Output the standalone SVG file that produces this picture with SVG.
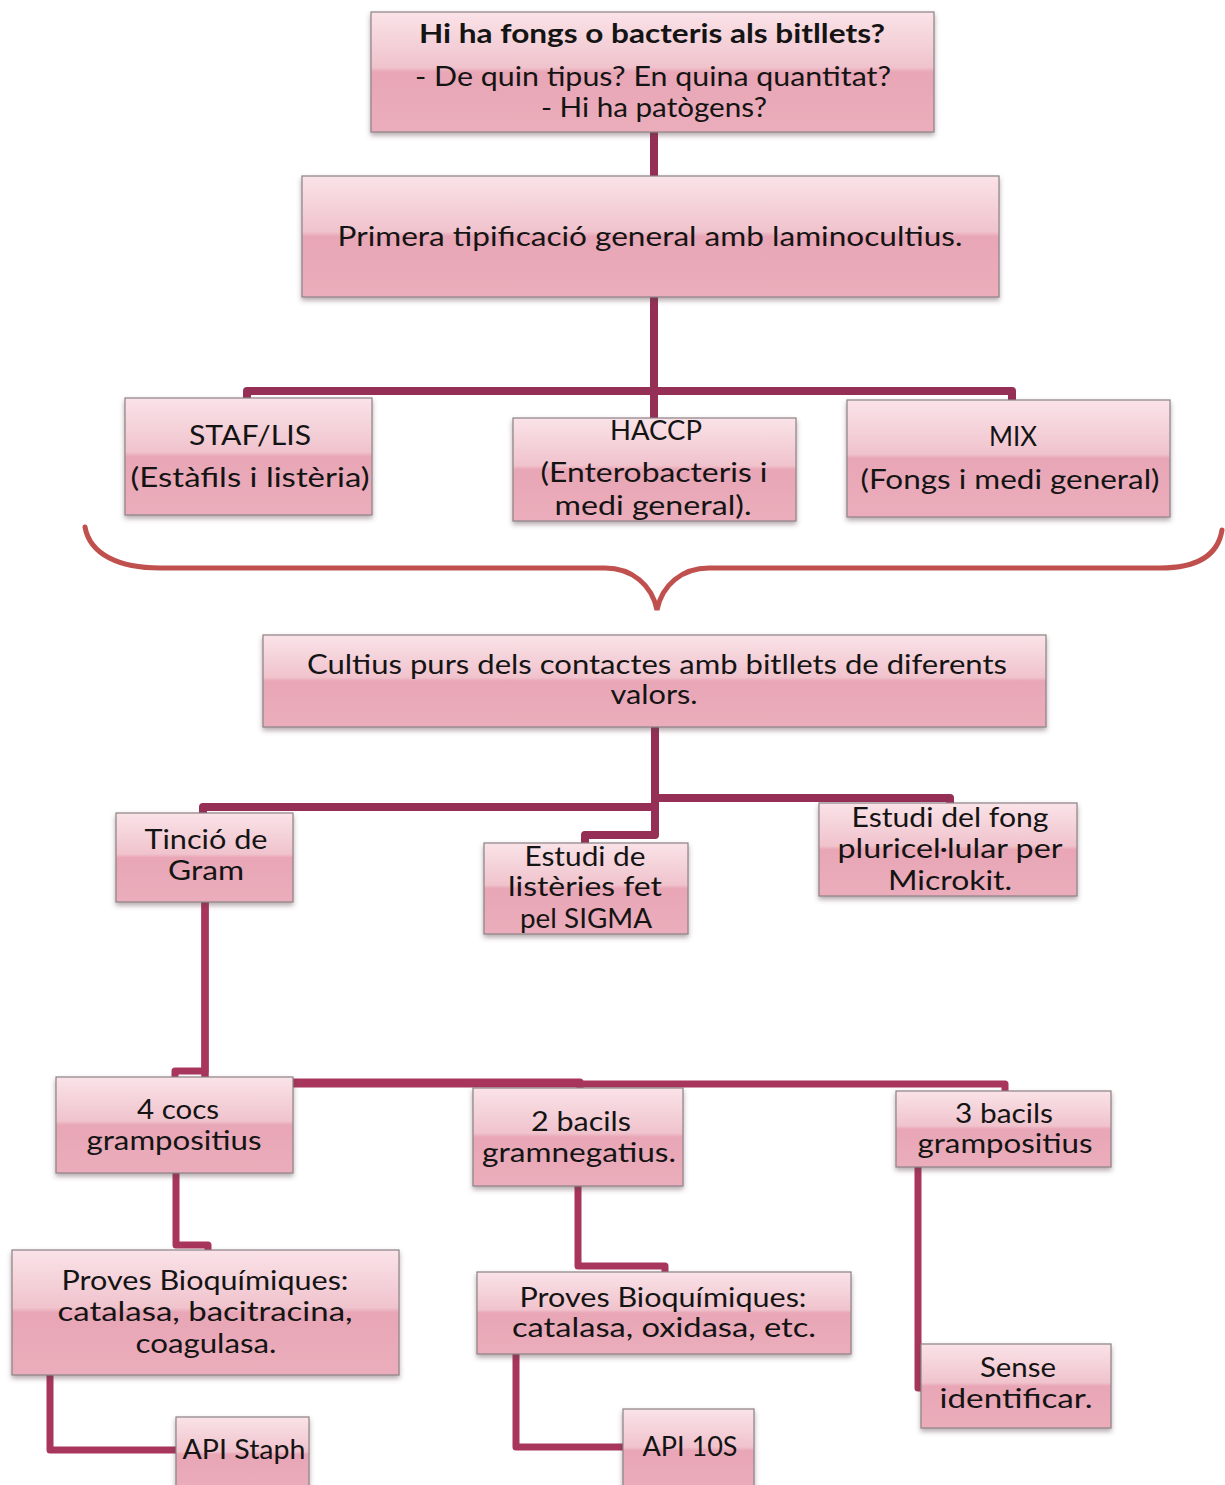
<svg xmlns="http://www.w3.org/2000/svg" width="1225" height="1485" viewBox="0 0 1225 1485">
<defs>
<linearGradient id="pink" x1="0" y1="0" x2="0" y2="1">
<stop offset="0" stop-color="#fae3e8"/>
<stop offset="0.46" stop-color="#f0c3cd"/>
<stop offset="0.5" stop-color="#e8a6b6"/>
<stop offset="1" stop-color="#ebadbb"/>
</linearGradient>
<filter id="sh" x="-10%" y="-10%" width="120%" height="130%">
<feDropShadow dx="0" dy="3" stdDeviation="2.5" flood-color="#5a4048" flood-opacity="0.45"/>
</filter>
</defs>
<style>
.box{fill:url(#pink);stroke:#8c8285;stroke-width:1.2;filter:url(#sh)}
.t{font-family:Lato,"Open Sans","Liberation Sans",sans-serif;font-size:27px;fill:#141414;text-anchor:middle}
.b{font-weight:bold}
.c1{fill:none;stroke:#952f55;stroke-width:8;stroke-linejoin:round}
.c2{fill:none;stroke:#a8355c;stroke-width:7;stroke-linejoin:round}
.brace{fill:none;stroke:#c0504d;stroke-width:5;stroke-linecap:round}
</style>
<rect width="1225" height="1485" fill="#ffffff"/>
<g id="connectors">
<path class="c1" d="M654,130 V178"/>
<path class="c1" d="M654,295 V420"/>
<path class="c1" d="M654,391 H247 V400"/>
<path class="c1" d="M654,391 H1012 V402"/>
<path class="c1" d="M655,725 V835 H585 V845"/>
<path class="c1" d="M655,798 H950 V805"/>
<path class="c1" d="M655,807 H203 V815"/>
<path class="c2" d="M205,900 V1071 H175 V1079"/>
<path class="c2" d="M205,900 V1082 H580 V1090"/>
<path class="c2" d="M205,900 V1084 H1005 V1093"/>
<path class="c2" d="M176,1171 V1245 H208 V1252"/>
<path class="c2" d="M578,1184 V1266 H665 V1274"/>
<path class="c2" d="M918,1165 V1388 H923"/>
<path class="c2" d="M50,1373 V1450 H178"/>
<path class="c2" d="M516,1352 V1447 H625"/>
<path class="brace" d="M85,527 C90,555 120,568 160,568 L605,568 C632,568 652,585 657,610 C662,585 682,568 709,568 L1160,568 C1198,568 1218,555 1222,530"/>
</g>
<g id="n1"><rect class="box" x="371" y="12" width="563" height="120"/>
<text class="t b" x="652" y="43" textLength="466" lengthAdjust="spacingAndGlyphs">Hi ha fongs o bacteris als bitllets?</text>
<text class="t" x="653" y="86" textLength="476" lengthAdjust="spacingAndGlyphs">- De quin tipus? En quina quantitat?</text>
<text class="t" x="654" y="117" textLength="226" lengthAdjust="spacingAndGlyphs">- Hi ha patògens?</text></g>
<g id="n2"><rect class="box" x="302" y="176" width="697" height="121"/>
<text class="t" x="650" y="246" textLength="625" lengthAdjust="spacingAndGlyphs">Primera tipificació general amb laminocultius.</text></g>
<g id="n3"><rect class="box" x="125" y="398" width="247" height="117"/>
<text class="t" x="250" y="445" textLength="122" lengthAdjust="spacingAndGlyphs">STAF/LIS</text>
<text class="t" x="250" y="487" textLength="239" lengthAdjust="spacingAndGlyphs">(Estàfils i listèria)</text></g>
<g id="n4"><rect class="box" x="513" y="418" width="283" height="103"/>
<text class="t" x="656" y="440" textLength="92" lengthAdjust="spacingAndGlyphs">HACCP</text>
<text class="t" x="654" y="482" textLength="227" lengthAdjust="spacingAndGlyphs">(Enterobacteris i</text>
<text class="t" x="653" y="515" textLength="197" lengthAdjust="spacingAndGlyphs">medi general).</text></g>
<g id="n5"><rect class="box" x="847" y="400" width="323" height="117"/>
<text class="t" x="1013" y="446" textLength="48" lengthAdjust="spacingAndGlyphs">MIX</text>
<text class="t" x="1010" y="489" textLength="299" lengthAdjust="spacingAndGlyphs">(Fongs i medi general)</text></g>
<g id="n6"><rect class="box" x="263" y="635" width="783" height="92"/>
<text class="t" x="657" y="674" textLength="700" lengthAdjust="spacingAndGlyphs">Cultius purs dels contactes amb bitllets de diferents</text>
<text class="t" x="654" y="704" textLength="87" lengthAdjust="spacingAndGlyphs">valors.</text></g>
<g id="n7"><rect class="box" x="116" y="813" width="177" height="89"/>
<text class="t" x="206" y="849" textLength="123" lengthAdjust="spacingAndGlyphs">Tinció de</text>
<text class="t" x="206" y="880" textLength="76" lengthAdjust="spacingAndGlyphs">Gram</text></g>
<g id="n8"><rect class="box" x="484" y="843" width="204" height="91"/>
<text class="t" x="585" y="866" textLength="121" lengthAdjust="spacingAndGlyphs">Estudi de</text>
<text class="t" x="585" y="896" textLength="154" lengthAdjust="spacingAndGlyphs">listèries fet</text>
<text class="t" x="586" y="928" textLength="132" lengthAdjust="spacingAndGlyphs">pel SIGMA</text></g>
<g id="n9"><rect class="box" x="819" y="803" width="258" height="93"/>
<text class="t" x="950" y="827" textLength="197" lengthAdjust="spacingAndGlyphs">Estudi del fong</text>
<text class="t" x="950" y="858" textLength="225" lengthAdjust="spacingAndGlyphs">pluricel·lular per</text>
<text class="t" x="950" y="890" textLength="124" lengthAdjust="spacingAndGlyphs">Microkit.</text></g>
<g id="n10"><rect class="box" x="56" y="1077" width="237" height="96"/>
<text class="t" x="178" y="1119" textLength="82" lengthAdjust="spacingAndGlyphs">4 cocs</text>
<text class="t" x="174" y="1150" textLength="175" lengthAdjust="spacingAndGlyphs">grampositius</text></g>
<g id="n11"><rect class="box" x="473" y="1088" width="210" height="98"/>
<text class="t" x="581" y="1131" textLength="100" lengthAdjust="spacingAndGlyphs">2 bacils</text>
<text class="t" x="579" y="1162" textLength="194" lengthAdjust="spacingAndGlyphs">gramnegatius.</text></g>
<g id="n12"><rect class="box" x="896" y="1091" width="215" height="76"/>
<text class="t" x="1004" y="1123" textLength="98" lengthAdjust="spacingAndGlyphs">3 bacils</text>
<text class="t" x="1005" y="1153" textLength="175" lengthAdjust="spacingAndGlyphs">grampositius</text></g>
<g id="n13"><rect class="box" x="12" y="1250" width="387" height="125"/>
<text class="t" x="205" y="1290" textLength="287" lengthAdjust="spacingAndGlyphs">Proves Bioquímiques:</text>
<text class="t" x="205" y="1321" textLength="295" lengthAdjust="spacingAndGlyphs">catalasa, bacitracina,</text>
<text class="t" x="206" y="1353" textLength="141" lengthAdjust="spacingAndGlyphs">coagulasa.</text></g>
<g id="n14"><rect class="box" x="477" y="1272" width="374" height="82"/>
<text class="t" x="663" y="1307" textLength="287" lengthAdjust="spacingAndGlyphs">Proves Bioquímiques:</text>
<text class="t" x="664" y="1337" textLength="304" lengthAdjust="spacingAndGlyphs">catalasa, oxidasa, etc.</text></g>
<g id="n15"><rect class="box" x="921" y="1344" width="190" height="84"/>
<text class="t" x="1018" y="1377" textLength="76" lengthAdjust="spacingAndGlyphs">Sense</text>
<text class="t" x="1016" y="1408" textLength="153" lengthAdjust="spacingAndGlyphs">identificar.</text></g>
<g id="n16"><rect class="box" x="176" y="1417" width="133" height="75"/>
<text class="t" x="244" y="1459" textLength="123" lengthAdjust="spacingAndGlyphs">API Staph</text></g>
<g id="n17"><rect class="box" x="623" y="1409" width="131" height="83"/>
<text class="t" x="690" y="1456" textLength="95" lengthAdjust="spacingAndGlyphs">API 10S</text></g>
</svg>
